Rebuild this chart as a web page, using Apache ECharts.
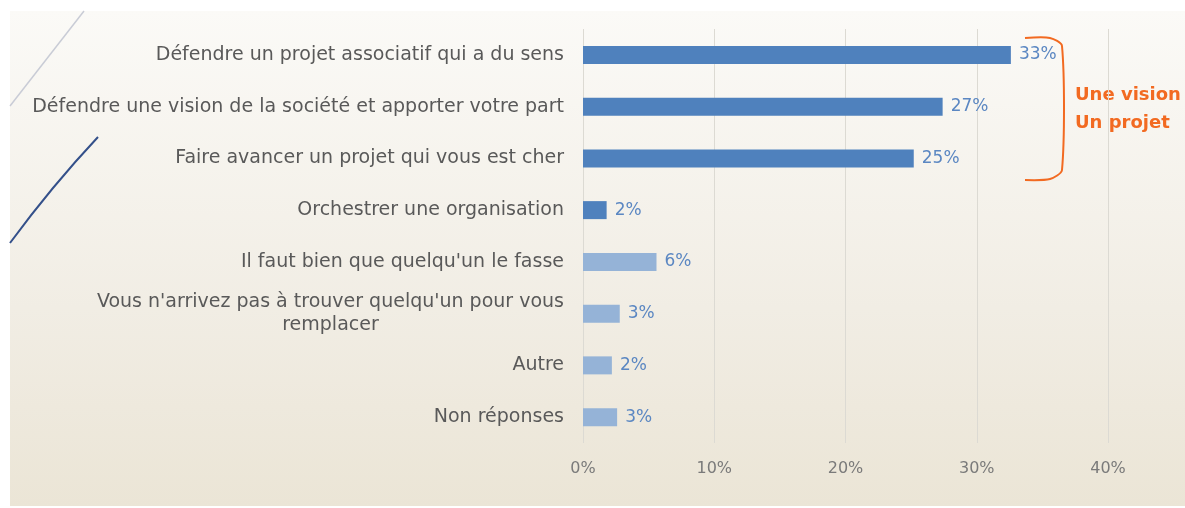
<!DOCTYPE html>
<html lang="fr">

<head>
    <meta charset="UTF-8">
    <title>Motivations</title>
    <script src="https://cdn.jsdelivr.net/npm/echarts@6/dist/echarts.min.js"></script>
    <style>
        html, body { margin: 0; padding: 0; background: #fff; }
        #chart { width: 1185px; height: 508px; }
    </style>
</head>

<body>
    <div id="chart"></div>
    <script>
        // données (en %)
        var categories = [
            'Défendre un projet associatif qui a du sens',
            'Défendre une vision de la société et apporter votre part',
            'Faire avancer un projet qui vous est cher',
            'Orchestrer une organisation',
            "Il faut bien que quelqu'un le fasse",
            "Vous n'arrivez pas à trouver quelqu'un pour vous\nremplacer",
            'Autre',
            'Non réponses'
        ];
        var values = [32.6, 27.4, 25.2, 1.8, 5.6, 2.8, 2.2, 2.6];
        var xTicks = [0, 10, 20, 30, 40];
        var noteLines = ['Une vision', 'Un projet'];

        var myChart = echarts.init(document.getElementById('chart'));

        var option = {
            animation: false,
            textStyle: { fontFamily: 'DejaVu Sans' },
            graphic: [
                // fond de la diapo
                {
                    type: 'rect',
                    z: -10,
                    shape: { x: 10, y: 11, width: 1175, height: 495 },
                    style: {
                        fill: new echarts.graphic.LinearGradient(0, 0, 0, 1, [
                            { offset: 0, color: '#fbfaf7' },
                            { offset: 0.6, color: '#f1ede4' },
                            { offset: 1, color: '#ebe5d6' }
                        ])
                    },
                    silent: true
                },
                // traits décoratifs
                {
                    type: 'line',
                    z: -5,
                    shape: { x1: 84, y1: 11, x2: 10, y2: 106 },
                    style: { stroke: '#c9ccd6', lineWidth: 1.5 },
                    silent: true
                },
                {
                    type: 'bezierCurve',
                    z: -5,
                    shape: { x1: 98, y1: 137, cpx1: 52, cpy1: 186, x2: 10, y2: 243 },
                    style: { stroke: '#34508a', lineWidth: 2 },
                    silent: true
                },
                // accolade orange
                {
                    type: 'polyline',
                    shape: {
                        points: [[1025, 38], [1050, 38], [1062, 46], [1062, 170], [1050, 179], [1025, 180]],
                        smooth: 0.25
                    },
                    style: { stroke: '#f26a21', lineWidth: 2, fill: null },
                    silent: true
                },
                {
                    type: 'text',
                    left: 1075,
                    top: 81,
                    style: {
                        text: noteLines.join('\n'),
                        fill: '#f26a21',
                        font: 'bold 18px "DejaVu Sans"',
                        lineHeight: 28
                    }
                }
            ],
            grid: {
                left: 583,
                right: 77,
                top: 29,
                bottom: 65
            },
            xAxis: {
                type: 'value',
                min: xTicks[0],
                max: xTicks[xTicks.length - 1],
                interval: 10,
                axisLine: { show: false },
                axisTick: { show: false },
                splitLine: { lineStyle: { color: '#dcdad3', width: 1 } },
                axisLabel: {
                    color: '#7a7a7a',
                    fontSize: 16,
                    margin: 18,
                    formatter: '{value}%'
                }
            },
            yAxis: {
                type: 'category',
                inverse: true,
                data: categories,
                axisLine: { show: false },
                axisTick: { show: false },
                axisLabel: {
                    color: '#595959',
                    fontSize: 19,
                    margin: 19,
                    lineHeight: 23,
                    formatter: function (v) {
                        var parts = v.split('\n');
                        if (parts.length > 1) {
                            return '{a|' + parts[0] + '}\n{c|' + parts[1] + '}';
                        }
                        return v;
                    },
                    rich: {
                        a: { color: '#595959', fontSize: 19, lineHeight: 23 },
                        c: { color: '#595959', fontSize: 19, lineHeight: 23, align: 'center' }
                    }
                }
            },
            series: [{
                type: 'bar',
                data: values,
                barWidth: 18,
                itemStyle: {
                    color: function (p) {
                        return p.dataIndex < 4 ? '#4f81bd' : '#95b3d7';
                    }
                },
                label: {
                    show: true,
                    position: 'right',
                    distance: 8,
                    color: '#5b87c2',
                    fontSize: 17,
                    formatter: function (p) {
                        return Math.round(p.value) + '%';
                    }
                }
            }]
        };

        myChart.setOption(option);
    </script>
</body>

</html>
